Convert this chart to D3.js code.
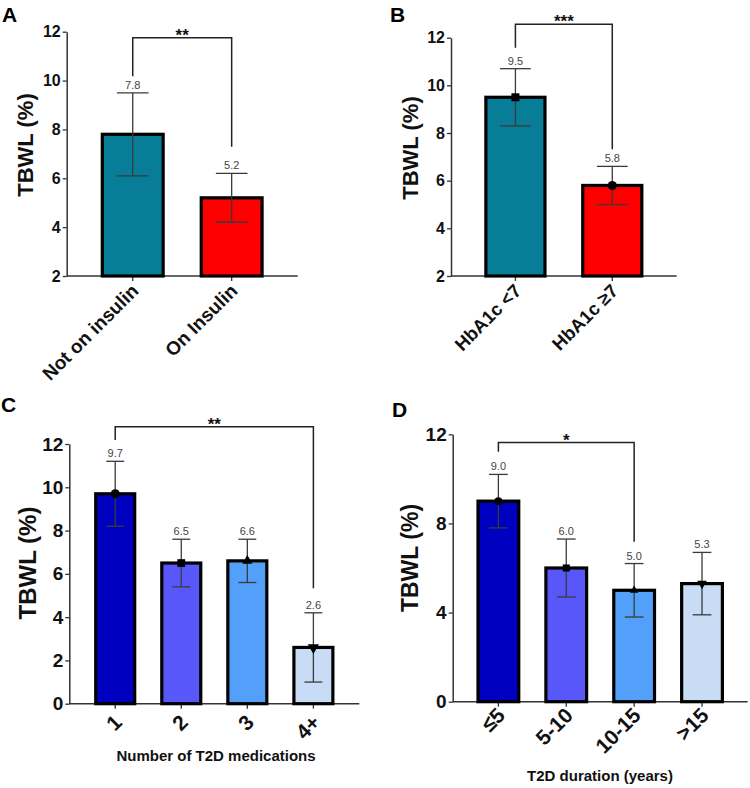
<!DOCTYPE html>
<html lang="en">
<head>
<meta charset="UTF-8">
<title>TBWL by subgroup</title>
<style>
  body { margin: 0; background: #fff; }
  svg { display: block; font-family: Arial, 'Liberation Sans', sans-serif; }
  .tick-lbl { font-weight: bold; fill: #111; }
  .val-lbl { font-size: 11px; fill: #444; text-anchor: middle; }
</style>
</head>
<body>
<div id="chart"></div>
<script src="https://d3js.org/d3.v7.min.js"></script>
<script>
// ---- data ----
const catsA = ["Not on insulin", "On Insulin"];
const meanA = [7.8, 5.2];
const lowA  = [6.1, 4.2];
const highA = [9.5, 6.2];

const catsB = ["HbA1c <7", "HbA1c \u22657"];
const meanB = [9.5, 5.8];
const lowB  = [8.3, 5.0];
const highB = [10.7, 6.6];

const catsC = ["1", "2", "3", "4+"];
const meanC = [9.7, 6.5, 6.6, 2.6];
const lowC  = [8.2, 5.4, 5.6, 1.0];
const highC = [11.2, 7.6, 7.6, 4.2];

const catsD = ["\u22645", "5-10", "10-15", ">15"];
const meanD = [9.0, 6.0, 5.0, 5.3];
const lowD  = [7.8, 4.7, 3.8, 3.9];
const highD = [10.2, 7.3, 6.2, 6.7];

const ticksAB = [2, 4, 6, 8, 10, 12];
const ticksC = [0, 2, 4, 6, 8, 10, 12];
const ticksD = [0, 4, 8, 12];

// significance brackets: [from, to, bracket level, left leg end, right leg end, stars]
const sigA = ["Not on insulin", "On Insulin", 11.75, 10.18, 7.29, "**"];
const sigB = ["HbA1c <7", "HbA1c \u22657", 12.56, 11.58, 7.32, "***"];
const sigC = ["1", "4+", 12.8, 12.19, 5.33, "**"];
const sigD = ["\u22645", "10-15", 11.63, 11.22, 7.18, "*"];

const tealRed = ["#077d97", "#ff0000"];
const blues = ["#0000c0", "#5858fa", "#52a0fa", "#c8dcf6"];

const svg = d3.select('#chart').append('svg')
  .attr('width', 750).attr('height', 788);

function drawPanel(p) {
  const g = svg.append('g');
  const x = d3.scaleBand().domain(p.cats).range([p.x0, p.x1])
    .paddingInner(p.pi).paddingOuter(p.po);
  const y = d3.scaleLinear().domain(p.domain).range([p.yBottom, p.yTop]);
  const bw = x.bandwidth();
  const cx = c => x(c) + bw / 2;

  // y axis
  const ya = g.append('g').attr('transform', `translate(${p.x0},0)`)
    .call(d3.axisLeft(y).tickValues(p.ticks).tickSize(4).tickSizeOuter(0).tickPadding(2));
  ya.select('.domain').attr('stroke', '#333').attr('stroke-width', 1.5);
  ya.selectAll('.tick line').attr('stroke', '#333').attr('stroke-width', 1.3);
  ya.selectAll('.tick text').attr('class', 'tick-lbl')
    .style('font-size', p.tickFont + 'px').attr('fill', '#111');

  // x axis
  const xa = g.append('g').attr('transform', `translate(0,${p.yBottom})`)
    .call(d3.axisBottom(x).tickSize(5).tickSizeOuter(0).tickFormat(''));
  xa.select('.domain').attr('stroke', '#333').attr('stroke-width', 1.5)
    .attr('d', `M${p.x0},0H${p.x1}`);
  xa.selectAll('.tick line').attr('stroke', '#333').attr('stroke-width', 1.3);

  // rotated category labels
  g.selectAll('.xl').data(p.cats).enter().append('text')
    .attr('class', 'tick-lbl')
    .style('font-size', p.xFont + 'px')
    .attr('text-anchor', 'end')
    .attr('transform', d => `translate(${cx(d) + p.xdx},${p.yBottom + p.xdy}) rotate(-45)`)
    .text(d => d);

  // bars
  g.selectAll('.bar').data(p.cats).enter().append('rect')
    .attr('x', d => x(d)).attr('width', bw)
    .attr('y', (d, i) => y(p.mean[i]))
    .attr('height', (d, i) => p.yBottom - y(p.mean[i]))
    .attr('fill', (d, i) => p.colors[i])
    .attr('stroke', '#000').attr('stroke-width', 3.2);

  // error bars
  const cap = bw * p.capFrac / 2;
  p.cats.forEach((c, i) => {
    const xc = cx(c);
    g.append('line').attr('x1', xc).attr('x2', xc)
      .attr('y1', y(p.low[i])).attr('y2', y(p.high[i]))
      .attr('stroke', '#3a3a3a').attr('stroke-width', 1.3);
    [p.low[i], p.high[i]].forEach(v => {
      g.append('line').attr('x1', xc - cap).attr('x2', xc + cap)
        .attr('y1', y(v)).attr('y2', y(v))
        .attr('stroke', '#3a3a3a').attr('stroke-width', 1.3);
    });
    g.append('text').attr('class', 'val-lbl')
      .attr('x', xc).attr('y', y(p.high[i]) - 4)
      .text(p.mean[i].toFixed(1));
    if (p.markers) {
      const m = p.markers[i];
      g.append('path')
        .attr('d', d3.symbol().type(m.type).size(m.size)())
        .attr('transform', `translate(${xc},${y(p.mean[i])}) rotate(${m.rot || 0})`)
        .attr('fill', '#000');
    }
  });

  // significance bracket
  const s = p.sig;
  const xl = cx(s[0]), xr = cx(s[1]), yb = y(s[2]);
  g.append('path')
    .attr('d', `M${xl},${y(s[3])}V${yb}H${xr}V${y(s[4])}`)
    .attr('fill', 'none').attr('stroke', '#222').attr('stroke-width', 1.5);
  g.append('text').attr('x', (xl + xr) / 2).attr('y', yb + 3)
    .attr('text-anchor', 'middle').style('font-size', '17px')
    .style('font-weight', 'bold').attr('fill', '#111').text(s[5]);

  // y title
  g.append('text')
    .attr('transform', `translate(${p.titleX},${p.titleY}) rotate(-90)`)
    .attr('text-anchor', 'middle')
    .style('font-size', p.titleFont + 'px').style('font-weight', 'bold')
    .attr('fill', '#111')
    .text('TBWL (%)');

  // panel letter
  g.append('text').attr('x', p.letterX).attr('y', p.letterY)
    .style('font-size', '21px').style('font-weight', 'bold').attr('fill', '#000')
    .text(p.letter);

  if (p.xTitle) {
    g.append('text').attr('x', p.xTitleX).attr('y', p.xTitleY)
      .attr('text-anchor', 'middle')
      .style('font-size', '15px').style('font-weight', 'bold').attr('fill', '#111')
      .text(p.xTitle);
  }
}

const mk = (type, size, rot) => ({ type, size, rot });

drawPanel({
  cats: catsA, mean: meanA, low: lowA, high: highA, colors: tealRed,
  x0: 66.7, x1: 297.7, yTop: 31.7, yBottom: 276, domain: [2, 12],
  pi: 0.385, po: 0.36, ticks: ticksAB, tickFont: 16, xFont: 19, xdx: 7, xdy: 16,
  capFrac: 0.52, sig: sigA, titleX: 33, titleY: 145, titleFont: 22,
  letter: 'A', letterX: 2, letterY: 21.5
});

drawPanel({
  cats: catsB, mean: meanB, low: lowB, high: highB, colors: tealRed,
  x0: 451, x1: 676.7, yTop: 37.7, yBottom: 276, domain: [2, 12],
  pi: 0.39, po: 0.36, ticks: ticksAB, tickFont: 16, xFont: 18.5, xdx: 7, xdy: 16,
  capFrac: 0.52, sig: sigB, titleX: 418, titleY: 148, titleFont: 22,
  markers: [mk(d3.symbolSquare, 64), mk(d3.symbolCircle, 64)],
  letter: 'B', letterX: 390, letterY: 21.5
});

drawPanel({
  cats: catsC, mean: meanC, low: lowC, high: highC, colors: blues,
  x0: 69.3, x1: 359.3, yTop: 444, yBottom: 703.7, domain: [0, 12],
  pi: 0.41, po: 0.4, ticks: ticksC, tickFont: 19, xFont: 21, xdx: 8, xdy: 20,
  capFrac: 0.46, sig: sigC, titleX: 36, titleY: 563, titleFont: 24,
  markers: [mk(d3.symbolCircle, 64), mk(d3.symbolSquare, 60), mk(d3.symbolTriangle, 45), mk(d3.symbolTriangle, 55, 180)],
  letter: 'C', letterX: 1, letterY: 412,
  xTitle: 'Number of T2D medications', xTitleX: 216, xTitleY: 761
});

drawPanel({
  cats: catsD, mean: meanD, low: lowD, high: highD, colors: blues,
  x0: 452.7, x1: 747.7, yTop: 434.3, yBottom: 701.7, domain: [0, 12],
  pi: 0.4, po: 0.373, ticks: ticksD, tickFont: 19, xFont: 21, xdx: 8, xdy: 15,
  capFrac: 0.46, sig: sigD, titleX: 418, titleY: 558, titleFont: 23,
  markers: [mk(d3.symbolCircle, 50), mk(d3.symbolSquare, 50), mk(d3.symbolTriangle, 30), mk(d3.symbolTriangle, 40, 180)],
  letter: 'D', letterX: 392, letterY: 416.7,
  xTitle: 'T2D duration (years)', xTitleX: 600, xTitleY: 781
});
</script>
</body>
</html>
